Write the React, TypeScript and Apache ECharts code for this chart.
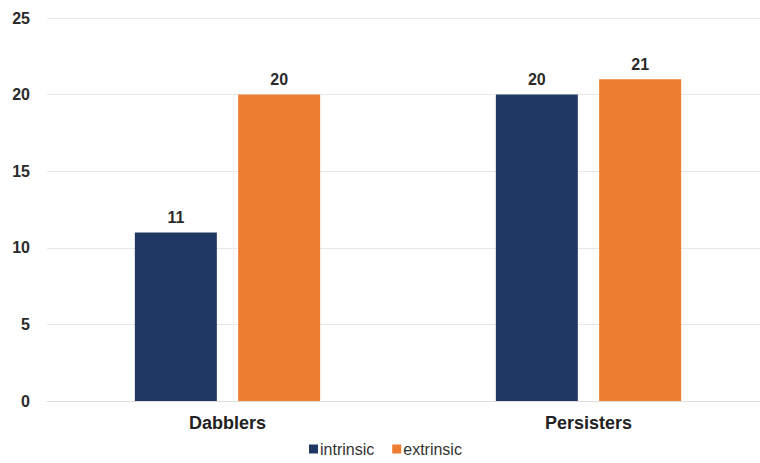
import React, { useEffect, useRef } from "react";
import * as echarts from "echarts";

const categories = ["Dabblers", "Persisters"];
const intrinsic = [11, 20];
const extrinsic = [20, 21];
const seriesNames = ["intrinsic", "extrinsic"];

export default function App() {
  const ref = useRef<HTMLDivElement>(null);
  useEffect(() => {
    document.body.style.margin = "0";
    const chart = echarts.init(ref.current!, undefined, { renderer: "svg" });
    const font = "Liberation Sans, Arial, sans-serif";
    const label = {
      show: true,
      position: "top",
      distance: 7,
      fontSize: 16,
      fontFamily: font,
      fontWeight: "bold",
      color: "#2b2b2b",
    };
    chart.setOption({
      animation: false,
      backgroundColor: "#fff",
      grid: { left: 47, top: 18, width: 722, bottom: 62, outerBoundsMode: "none", containLabel: false },
      legend: {
        data: seriesNames,
        bottom: 1,
        left: 304,
        itemWidth: 9,
        itemHeight: 9,
        itemGap: 18,
        icon: "rect",
        textStyle: { fontSize: 16, fontFamily: font, color: "#333", padding: [0, 0, 0, -3] },
      },
      xAxis: {
        type: "category",
        data: categories,
        axisLine: { lineStyle: { color: "#dedede", width: 1 } },
        axisTick: { show: false },
        axisLabel: { fontSize: 18, fontWeight: "bold", fontFamily: font, color: "#222", margin: 13 },
      },
      yAxis: {
        type: "value",
        min: 0,
        max: 25,
        interval: 5,
        axisLine: { show: false },
        axisTick: { show: false },
        splitLine: { lineStyle: { color: "#e8e8e8", width: 1 } },
        axisLabel: { fontSize: 16, fontWeight: "bold", fontFamily: font, color: "#2b2b2b", margin: 17 },
      },
      series: [
        {
          name: seriesNames[0],
          type: "bar",
          data: intrinsic,
          barWidth: 82,
          barGap: "26%",
          itemStyle: { color: "#203864" },
          label,
        },
        {
          name: seriesNames[1],
          type: "bar",
          data: extrinsic,
          barWidth: 82,
          itemStyle: { color: "#ED7D31" },
          label,
        },
      ],
    });
    return () => chart.dispose();
  }, []);
  return <div ref={ref} style={{ width: 760, height: 463 }} />;
}
